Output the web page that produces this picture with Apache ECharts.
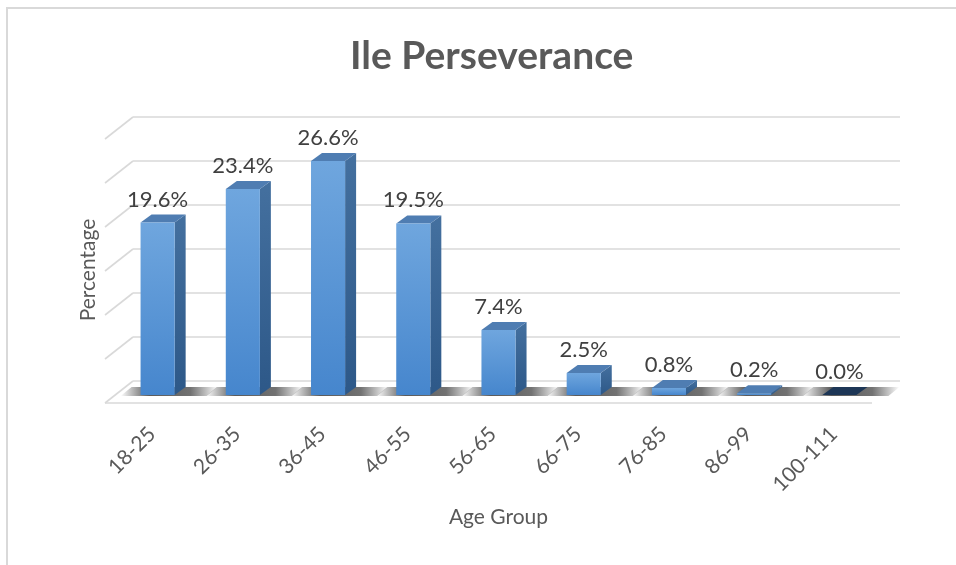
<!DOCTYPE html>
<html>
<head>
<meta charset="utf-8">
<script src="https://cdn.jsdelivr.net/npm/echarts@6/dist/echarts.min.js"></script>
<style>
  html, body { margin: 0; padding: 0; background: #fff; }
  #b { width: 956px; height: 565px; }
</style>
</head>
<body>
<div id="b"></div>
<script>
var ageGroups = ['18-25', '26-35', '36-45', '46-55', '56-65', '66-75', '76-85', '86-99', '100-111'];
var percents = [19.6, 23.4, 26.6, 19.5, 7.4, 2.5, 0.8, 0.2, 0.0];
var yTicks = [0, 5, 10, 15, 20, 25, 30];

// depth of the 3d box (back wall vs bar plane vs floor front)
var BACK = [18, -14];
var FRONT = [-10, 8];
var BAR_D = [11, -8];

function wallItem(params, api) {
  var cs = params.coordSys;
  var y = api.coord([0, api.value(1)])[1];
  var x0 = cs.x, x1 = cs.x + cs.width;
  var lineStyle = { stroke: '#d9d9d9', lineWidth: 1.6 };
  var kids = [
    { type: 'line', shape: { x1: x0 + BACK[0], y1: y + BACK[1], x2: x1 + BACK[0], y2: y + BACK[1] }, style: lineStyle },
    { type: 'line', shape: { x1: x0 + BACK[0], y1: y + BACK[1], x2: x0 + FRONT[0], y2: y + FRONT[1] }, style: lineStyle }
  ];
  if (api.value(1) === 0) {
    kids.push({ type: 'line', shape: { x1: x0 + FRONT[0], y1: y + FRONT[1], x2: x1 + FRONT[0], y2: y + FRONT[1] }, style: lineStyle });
  }
  return { type: 'group', children: kids };
}

function barItem(params, api) {
  var v = api.value(1);
  var top = api.coord([api.value(0), v]);
  var base = api.coord([api.value(0), 0]);
  var w = api.size([1, 0])[0] * 0.4;
  var l = top[0] - w / 2, r = top[0] + w / 2;
  var ty = top[1], by = base[1];
  var dx = BAR_D[0], dy = BAR_D[1];
  var topColor = v > 0 ? '#4f7db2' : '#1d3656';
  return {
    type: 'group',
    children: [
      // shadow on the floor
      { type: 'polygon',
        shape: { points: [[l - 20, by + 1], [r + 32, by + 1], [r + 32 + dx, by + dy], [l - 20 + dx, by + dy]] },
        style: { fill: new echarts.graphic.LinearGradient(0, 0, 1, 0, [
          { offset: 0, color: 'rgba(0,0,0,0)' },
          { offset: 0.3, color: 'rgba(20,20,20,0.7)' },
          { offset: 0.72, color: 'rgba(20,20,20,0.6)' },
          { offset: 1, color: 'rgba(0,0,0,0)' }
        ]) } },
      // side
      { type: 'polygon',
        shape: { points: [[r, ty], [r + dx, ty + dy], [r + dx, by + dy], [r, by]] },
        style: { fill: new echarts.graphic.LinearGradient(0, 0, 0, 1, [
          { offset: 0, color: '#44709f' }, { offset: 1, color: '#2d5888' }
        ]) } },
      // top
      { type: 'polygon',
        shape: { points: [[l, ty], [r, ty], [r + dx, ty + dy], [l + dx, ty + dy]] },
        style: { fill: topColor } },
      // front
      { type: 'rect',
        shape: { x: l, y: ty, width: w, height: Math.max(by - ty, 0) },
        style: { fill: new echarts.graphic.LinearGradient(0, 0, 0, 1, [
          { offset: 0, color: '#6fa6de' }, { offset: 1, color: '#4686cd' }
        ]) } },
      { type: 'text',
        style: { text: v.toFixed(1) + '%', x: top[0], y: ty - 23, align: 'center', verticalAlign: 'middle',
                 fill: '#404040', font: '22px Lato' } }
    ]
  };
}

var myChart = echarts.init(document.getElementById('b'));
option = {
  backgroundColor: '#fff',
  animation: false,
  title: {
    text: 'Ile Perseverance',
    left: 345,
    top: 32,
    textStyle: { fontFamily: 'Lato', fontWeight: 'bold', fontSize: 39, color: '#595959' }
  },
  graphic: [{
    type: 'polyline',
    shape: { points: [[7, 565], [7, 8], [956, 8]] },
    style: { stroke: '#d9d9d9', lineWidth: 2, fill: null }
  }],
  grid: { left: 115, right: 74, top: 131, bottom: 170 },
  xAxis: {
    type: 'category',
    data: ageGroups,
    name: 'Age Group',
    nameLocation: 'middle',
    nameGap: 112,
    nameTextStyle: { fontFamily: 'Lato', fontSize: 21, color: '#595959' },
    axisLine: { show: false },
    axisTick: { show: false },
    axisLabel: { rotate: 45, margin: 30, padding: [0, 8, 0, 0], fontFamily: 'Lato', fontSize: 21, color: '#595959' }
  },
  yAxis: {
    type: 'value',
    min: 0,
    max: 30,
    interval: 5,
    name: 'Percentage',
    nameLocation: 'middle',
    nameGap: 16,
    nameTextStyle: { fontFamily: 'Lato', fontSize: 21, color: '#595959', padding: [0, 14, 0, 0] },
    axisLabel: { show: false },
    axisLine: { show: false },
    axisTick: { show: false },
    splitLine: { show: false }
  },
  series: [
    {
      name: 'wall',
      type: 'custom',
      renderItem: wallItem,
      data: yTicks.map(function (t) { return [0, t]; }),
      encode: { x: 0, y: 1 },
      z: 1,
      silent: true
    },
    {
      name: 'Percentage',
      type: 'custom',
      renderItem: barItem,
      data: percents.map(function (p, i) { return [i, p]; }),
      encode: { x: 0, y: 1 },
      z: 2
    }
  ]
};
option && myChart.setOption(option);
</script>
</body>
</html>
